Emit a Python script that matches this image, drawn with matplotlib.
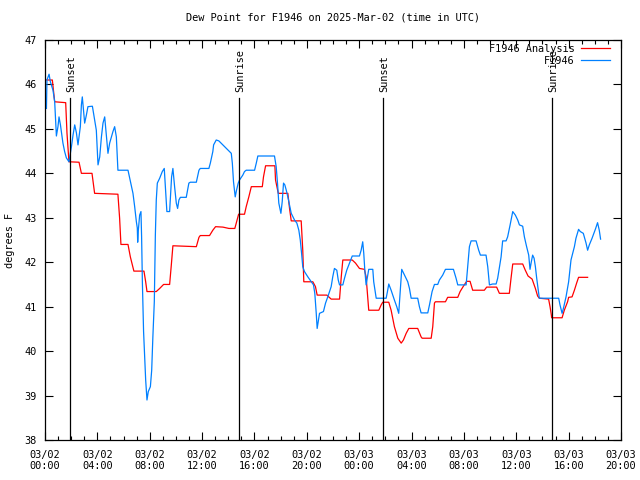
import matplotlib
matplotlib.use("Agg")
import matplotlib.pyplot as plt
from matplotlib.ticker import MultipleLocator

# hours since 2025-03-02 00:00 UTC
obs_hours = [0.11, 0.15, 0.31, 0.41, 0.61, 0.74, 0.87, 0.99, 1.07, 1.18, 1.37, 1.50, 1.63, 1.83,
             1.94, 2.02, 2.14, 2.27, 2.40, 2.52, 2.70, 2.78, 2.85, 2.95, 3.03, 3.16, 3.28, 3.62,
             3.79, 3.92, 4.05, 4.18, 4.31, 4.43, 4.56, 4.81, 4.94, 5.07, 5.19, 5.32, 5.45, 5.57,
             6.34, 6.47, 6.72, 6.85, 6.98, 7.05, 7.08, 7.13, 7.23, 7.33, 7.38, 7.44, 7.53, 7.63,
             7.69, 7.79, 7.89, 8.05, 8.15, 8.24, 8.35, 8.43, 8.50, 8.58, 8.76, 8.96, 9.11, 9.21,
             9.31, 9.52, 9.67, 9.77, 9.90, 10.03, 10.13, 10.23, 10.34, 10.79, 10.99, 11.10, 11.56,
             11.76, 11.86, 12.52, 12.63, 12.82, 12.88, 13.08, 13.28, 13.85, 14.23, 14.31, 14.40,
             14.53, 14.63, 14.76, 14.86, 15.11, 15.24, 15.37, 16.01, 16.14, 16.26, 17.53, 17.66,
             17.76, 17.86, 18.02, 18.12, 18.22, 18.32, 18.43, 18.55, 18.68, 18.81, 19.06, 19.24,
             19.39, 19.50, 19.60, 19.69, 19.82, 20.08, 20.34, 20.51, 20.61, 20.72, 20.79, 20.87,
             20.97, 21.27, 21.43, 21.60, 21.86, 21.98, 22.11, 22.29, 22.40, 22.50, 22.75, 22.88,
             23.05, 23.26, 23.47, 24.02, 24.15, 24.27, 24.35, 24.43, 24.53, 24.66, 24.73, 25.04,
             25.11, 25.24, 25.30, 26.06, 26.16, 26.26, 26.44, 26.69, 26.87, 27.02, 27.15, 27.25,
             27.46, 27.71, 27.84, 27.97, 28.47, 28.60, 28.73, 29.24, 29.37, 29.57, 29.75, 30.00,
             30.13, 30.38, 30.59, 31.20, 31.40, 31.53, 32.17, 32.29, 32.42, 32.55, 32.93, 33.13,
             33.26, 33.69, 33.82, 33.95, 34.20, 34.46, 34.58, 34.84, 34.96, 35.22, 35.34, 35.53,
             35.73, 35.93, 36.11, 36.24, 36.49, 36.62, 36.79, 36.95, 37.05, 37.15, 37.25, 37.36,
             37.46, 37.56, 37.66, 37.76, 39.24, 39.34, 39.50, 39.60, 39.80, 40.00, 40.18, 40.31,
             40.44, 40.56, 40.76, 40.89, 41.12, 41.33, 41.45, 41.58, 41.79, 42.04, 42.21, 42.34,
             42.44]
obs_dewpt = [45.46, 46.10, 46.23, 46.06, 45.87, 45.61, 44.84, 45.05, 45.27, 45.09, 44.68, 44.49,
             44.35, 44.26, 44.46, 44.60, 44.86, 45.09, 44.91, 44.64, 45.05, 45.54, 45.72, 45.39,
             45.13, 45.31, 45.50, 45.51, 45.20, 44.97, 44.19, 44.37, 44.82, 45.13, 45.27, 44.45,
             44.68, 44.82, 44.94, 45.05, 44.82, 44.07, 44.07, 43.89, 43.55, 43.25, 42.91, 42.77,
             42.45, 42.72, 43.06, 43.14, 42.57, 41.53, 40.44, 39.73, 39.35, 38.90, 39.09, 39.20,
             39.57, 40.32, 41.11, 42.61, 43.40, 43.78, 43.89, 44.04, 44.11, 43.62, 43.14, 43.14,
             43.92, 44.11, 43.70, 43.33, 43.21, 43.40, 43.46, 43.46, 43.78, 43.80, 43.80, 44.07,
             44.11, 44.11, 44.23, 44.49, 44.64, 44.75, 44.73, 44.56, 44.45, 44.23, 43.81, 43.47,
             43.62, 43.78, 43.85, 43.96, 44.04, 44.07, 44.07, 44.23, 44.39, 44.39, 44.15, 43.78,
             43.33, 43.10, 43.36, 43.78, 43.74, 43.62, 43.47, 43.29, 43.10, 42.95, 42.88, 42.72,
             42.50, 42.20, 41.90, 41.79, 41.67, 41.56, 41.49, 41.30, 40.85, 40.51, 40.66, 40.85,
             40.89, 41.08, 41.22, 41.45, 41.67, 41.86, 41.82, 41.60, 41.49, 41.49, 41.64, 41.82,
             41.98, 42.14, 42.14, 42.27, 42.46, 42.20, 41.82, 41.49, 41.71, 41.84, 41.84, 41.56,
             41.30, 41.19, 41.19, 41.34, 41.51, 41.37, 41.15, 41.00, 40.85, 41.41, 41.84, 41.71,
             41.56, 41.41, 41.19, 41.19, 41.00, 40.86, 40.86, 41.04, 41.34, 41.50, 41.50, 41.60,
             41.71, 41.84, 41.84, 41.64, 41.49, 41.49, 41.90, 42.35, 42.48, 42.48, 42.27, 42.16,
             42.16, 41.90, 41.49, 41.51, 41.51, 41.64, 42.12, 42.48, 42.48, 42.57, 42.84, 43.14,
             43.06, 42.95, 42.84, 42.81, 42.57, 42.35, 42.16, 41.84, 42.01, 42.16, 42.09, 41.90,
             41.64, 41.41, 41.19, 41.19, 41.04, 40.85, 40.96, 41.22, 41.56, 42.05, 42.20, 42.35,
             42.54, 42.74, 42.69, 42.65, 42.43, 42.27, 42.39, 42.54, 42.74, 42.89, 42.72, 42.52]

ana_hours = [0.11, 0.56, 0.74, 1.58, 1.68, 1.83, 2.60, 2.78, 3.59, 3.79, 5.57, 5.70, 5.80, 6.34,
             6.52, 6.79, 7.56, 7.69, 7.79, 8.50, 8.76, 9.06, 9.52, 9.65, 9.77, 11.56, 11.76,
             11.86, 12.57, 12.82, 13.03, 13.59, 14.05, 14.50, 14.61, 14.79, 15.24, 15.37, 15.57,
             15.76, 16.60, 16.69, 16.85, 17.56, 17.61, 17.82, 18.55, 18.68, 18.81, 19.57, 19.69,
             19.77, 20.46, 20.66, 20.79, 21.53, 21.86, 22.50, 22.63, 22.75, 23.47, 23.72, 24.02,
             24.40, 24.53, 24.73, 25.50, 25.68, 25.80, 26.26, 26.44, 26.69, 26.95, 27.21, 27.38,
             27.59, 27.79, 28.47, 28.73, 28.81, 29.50, 29.62, 29.75, 29.82, 30.59, 30.76, 31.53,
             31.71, 31.96, 32.21, 32.47, 32.67, 33.56, 33.74, 34.50, 34.71, 35.47, 35.60, 35.73,
             36.49, 36.69, 36.90, 37.21, 37.46, 37.63, 37.76, 38.47, 38.58, 38.68, 38.70, 39.50,
             39.67, 39.92, 40.00, 40.26, 40.44, 40.61, 40.76, 41.45]
ana_dewpt = [46.10, 46.10, 45.61, 45.59, 44.90, 44.26, 44.25, 44.00, 44.00, 43.55, 43.53, 42.99,
             42.40, 42.40, 42.12, 41.80, 41.80, 41.56, 41.34, 41.34, 41.41, 41.50, 41.50, 41.94,
             42.37, 42.35, 42.56, 42.60, 42.60, 42.72, 42.80, 42.79, 42.76, 42.76, 42.88, 43.08,
             43.08, 43.25, 43.47, 43.70, 43.70, 43.92, 44.17, 44.17, 43.85, 43.55, 43.55, 43.21,
             42.93, 42.93, 42.27, 41.56, 41.56, 41.45, 41.26, 41.26, 41.17, 41.17, 41.67, 42.05,
             42.05, 41.98, 41.86, 41.84, 41.67, 40.92, 40.92, 41.04, 41.10, 41.10, 40.92, 40.55,
             40.29, 40.18, 40.25, 40.40, 40.51, 40.51, 40.32, 40.29, 40.29, 40.55, 41.08, 41.11,
             41.11, 41.21, 41.21, 41.34, 41.46, 41.57, 41.57, 41.37, 41.37, 41.44, 41.44, 41.30,
             41.30, 41.64, 41.96, 41.96, 41.82, 41.69, 41.62, 41.41, 41.24, 41.19, 41.17, 41.00,
             40.81, 40.75, 40.75, 40.92, 41.11, 41.21, 41.22, 41.37, 41.53, 41.66, 41.66]

sun_hours = [1.88, 14.81, 25.80, 38.70]
sun_labels = ["Sunset", "Sunrise", "Sunset", "Sunrise"]

tick_hours = [0, 4, 8, 12, 16, 20, 24, 28, 32, 36, 40, 44]
tick_labels = ["03/02\n00:00", "03/02\n04:00", "03/02\n08:00", "03/02\n12:00",
               "03/02\n16:00", "03/02\n20:00", "03/03\n00:00", "03/03\n04:00",
               "03/03\n08:00", "03/03\n12:00", "03/03\n16:00", "03/03\n20:00"]

plt.rcParams['font.family'] = ['DejaVu Sans Mono']
plt.rcParams['font.size'] = 7.4

fig = plt.figure(figsize=(6.4, 4.8), dpi=100)
ax = fig.add_axes([45 / 640, 40 / 480, 576 / 640, 400 / 480])

ax.plot(ana_hours, ana_dewpt, color='#ff0000', lw=0.9, label='F1946 Analysis')
ax.plot(obs_hours, obs_dewpt, color='#0080ff', lw=0.9, label='F1946')

for h, lab in zip(sun_hours, sun_labels):
    ax.axvline(h, ymin=0, ymax=0.855, color='black', lw=0.9)
    ax.text(h + 0.1, 0.87, lab, rotation=90, ha='center', va='bottom',
            transform=ax.get_xaxis_transform())

ax.set_xlim(0, 44)
ax.set_ylim(38, 47)
ax.set_xticks(tick_hours)
ax.set_xticklabels(tick_labels)
ax.xaxis.set_minor_locator(MultipleLocator(1))
ax.yaxis.set_major_locator(MultipleLocator(1))
ax.tick_params(which='both', direction='in', top=True, right=True, width=0.8)
ax.tick_params(which='major', length=6)
ax.tick_params(which='minor', length=3)
ax.tick_params(axis='x', pad=7)
ax.tick_params(axis='y', pad=6)
for s in ax.spines.values():
    s.set_linewidth(0.9)

ax.set_title("Dew Point for F1946 on 2025-Mar-02 (time in UTC)", fontsize=7.4, pad=14)
fig.text(10 / 640, 0.5, "degrees F", rotation=90, ha='center', va='center')

ax.legend(loc='upper right', bbox_to_anchor=(1 - 11 / 576, 1 - 4 / 400),
          frameon=False, markerfirst=False, handlelength=2.8, handletextpad=0.65,
          labelspacing=0.15, borderpad=0, borderaxespad=0)

fig.savefig("out.png", dpi=100)
